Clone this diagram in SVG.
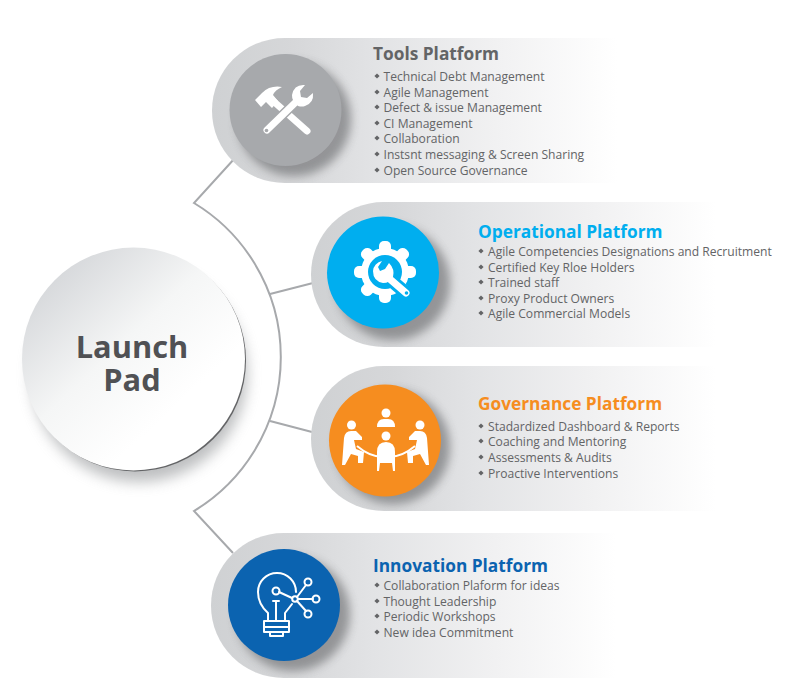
<svg xmlns="http://www.w3.org/2000/svg" width="808" height="699" viewBox="0 0 808 699">
<style>
.t{font-family:"Open Sans","Liberation Sans",sans-serif;font-weight:700;font-size:17.3px}
.i{font-family:"Open Sans","Liberation Sans",sans-serif;font-size:12.1px;fill:#636466}
.l{font-family:"Open Sans","Liberation Sans",sans-serif;font-weight:700;font-size:30.8px;fill:#505154;text-anchor:middle}
.c{fill:none;stroke:#a7a9ac;stroke-width:2}
.w{fill:#fff}
.s{fill:none;stroke:#fff;stroke-width:2;stroke-linecap:round;stroke-linejoin:round}
</style>
<defs>
<linearGradient id="pill" x1="0" x2="1" y1="0" y2="0">
<stop offset="0" stop-color="#cfd1d3"/><stop offset=".2" stop-color="#d6d7d9"/><stop offset=".4" stop-color="#e2e3e5"/><stop offset=".7" stop-color="#f1f1f2"/><stop offset="1" stop-color="#fff"/>
</linearGradient>
<linearGradient id="pad" x1=".12" y1=".12" x2=".68" y2=".72">
<stop offset="0" stop-color="#d5d7da"/><stop offset=".55" stop-color="#f5f6f6"/><stop offset="1" stop-color="#fff"/>
</linearGradient>
<filter id="b" x="-30%" y="-30%" width="160%" height="160%"><feGaussianBlur stdDeviation="5"/></filter>
<filter id="b2" x="-30%" y="-30%" width="160%" height="160%"><feGaussianBlur stdDeviation="7"/></filter>
<polygon id="d" points="0,-2.6 2.6,0 0,2.6 -2.6,0" fill="#636466"/>
<path id="p" d="M72.500 0H405V145H72.500A72.500 72.500 0 0 1 72.500 0Z" fill="url(#pill)"/>
<clipPath id="cp"><path d="M72.500 0H405V145H72.500A72.500 72.500 0 0 1 72.500 0Z"/></clipPath>
<g id="sh" clip-path="url(#cp)"><circle cx="82" cy="81" r="57" fill="#6d6e71" opacity=".65" filter="url(#b)"/></g>
</defs>
<rect width="808" height="699" fill="#fff"/>
<g id="connectors">
<path class="c" d="M235 158L194 203A180 180 0 0 1 194 511L233 553"/>
<path class="c" d="M270 294L313 283M270 421L312 432"/>
</g>
<g id="launch-pad">
<circle cx="139" cy="374" r="108" fill="#939598" opacity=".6" filter="url(#b2)"/>
<circle cx="135" cy="360.500" r="111" fill="#636466"/>
<circle cx="133.500" cy="359" r="111.500" fill="url(#pad)"/>
<text class="l" x="132" y="358">Launch</text>
<text class="l" x="132" y="391">Pad</text>
</g>
<g id="tools-platform">
<use href="#p" x="212" y="38"/>
<use href="#sh" x="212" y="38"/>
<circle cx="285.500" cy="110" r="56" fill="#a7a9ac"/>
<path class="w" d="M255 100L262 93Q270 85 282 87Q275 90 273 95L278 101L272 108L266 102L261 107Z"/>
<path d="M272 100L307 131" stroke="#fff" stroke-width="7" stroke-linecap="round"/>
<path d="M267 130L298 100" stroke="#a7a9ac" stroke-width="10" stroke-linecap="round"/>
<path d="M267 130L298 100" stroke="#fff" stroke-width="7" stroke-linecap="round"/>
<path class="w" d="M305 85Q294 84 292 95Q292 99 293 100L298 106Q302 107 305 106Q314 103 313 93L307 98L301 97L300 91Z"/>
<circle cx="266.500" cy="130.500" r="1.800" fill="#a7a9ac"/>
<text class="t" x="373" y="60" fill="#636466">Tools Platform</text>
<use href="#d" x="377" y="76"/><text class="i" x="383.500" y="81">Technical Debt Management</text>
<use href="#d" x="377" y="92"/><text class="i" x="383.500" y="97">Agile Management</text>
<use href="#d" x="377" y="107"/><text class="i" x="383.500" y="112">Defect &amp; issue Management</text>
<use href="#d" x="377" y="123"/><text class="i" x="383.500" y="128">CI Management</text>
<use href="#d" x="377" y="138"/><text class="i" x="383.500" y="143">Collaboration</text>
<use href="#d" x="377" y="154"/><text class="i" x="383.500" y="159">Instsnt messaging &amp; Screen Sharing</text>
<use href="#d" x="377" y="170"/><text class="i" x="383.500" y="175">Open Source Governance</text>
</g>
<g id="operational-platform">
<use href="#p" x="311" y="202"/>
<use href="#sh" x="311" y="202"/>
<circle cx="383" cy="272.500" r="56" fill="#00aeef"/>
<g fill="#fff">
<circle cx="385" cy="272" r="24"/>
<rect x="379" y="241" width="12" height="62" rx="5"/>
<rect x="379" y="241" width="12" height="62" rx="5" transform="rotate(45 385 272)"/>
<rect x="379" y="241" width="12" height="62" rx="5" transform="rotate(90 385 272)"/>
<rect x="379" y="241" width="12" height="62" rx="5" transform="rotate(135 385 272)"/>
</g>
<circle cx="385" cy="272" r="17" fill="#00aeef"/>
<path d="M386 276L406 293" stroke="#00aeef" stroke-width="13" stroke-linecap="round"/>
<path d="M384 274L406 293" stroke="#fff" stroke-width="7" stroke-linecap="round"/>
<path class="w" d="M382 261A11 11 0 0 0 373 271Q373 281 383 283Q390 283 393 277Q395 269 389 263L385 269L380 271L378 267Z"/>
<circle cx="406.500" cy="293" r="1.800" fill="#00aeef"/>
<text class="t" x="478" y="238" fill="#00aeef">Operational Platform</text>
<use href="#d" x="481" y="251"/><text class="i" x="488" y="256">Agile Competencies Designations and Recruitment</text>
<use href="#d" x="481" y="267"/><text class="i" x="488" y="272">Certified Key Rloe Holders</text>
<use href="#d" x="481" y="282"/><text class="i" x="488" y="287">Trained staff</text>
<use href="#d" x="481" y="298"/><text class="i" x="488" y="303">Proxy Product Owners</text>
<use href="#d" x="481" y="313"/><text class="i" x="488" y="318">Agile Commercial Models</text>
</g>
<g id="governance-platform">
<use href="#p" x="311" y="366"/>
<use href="#sh" x="311" y="366"/>
<circle cx="385" cy="440.500" r="56" fill="#f68d1f"/>
<g fill="#fff">
<circle cx="386" cy="413" r="4.500"/>
<path d="M377 427Q377 419 384 419L388 419Q395 419 395 427Z"/>
<circle cx="386" cy="436" r="4.500"/>
<path d="M377 471L377 452Q377 442 386 442Q395 442 395 452L395 471L393 471L392 463L380 463L379 471Z"/>
<circle cx="351.500" cy="425" r="4.500"/>
<path d="M342 465L344 438Q345 431 351 431L356 431L362 437L362 440L354 440L356 449L364 452L363 463L358 463L358 456L351 454L345 465Z"/>
<circle cx="420" cy="425" r="4.500"/>
<path d="M429 465L427 438Q426 431 420 431L415 431L409 437L409 440L417 440L415 449L407 452L408 463L413 463L413 456L420 454L426 465Z"/>
</g>
<path d="M357 446Q371 458 386 457Q401 458 415 446" fill="none" stroke="#fff" stroke-width="2"/>
<text class="t" x="478" y="410" fill="#f68d1f">Governance Platform</text>
<use href="#d" x="481" y="426"/><text class="i" x="488" y="431">Stadardized Dashboard &amp; Reports</text>
<use href="#d" x="481" y="441"/><text class="i" x="488" y="446">Coaching and Mentoring</text>
<use href="#d" x="481" y="457"/><text class="i" x="488" y="462">Assessments &amp; Audits</text>
<use href="#d" x="481" y="473"/><text class="i" x="488" y="478">Proactive Interventions</text>
</g>
<g id="innovation-platform">
<use href="#p" x="211" y="533"/>
<use href="#sh" x="211" y="533"/>
<circle cx="284" cy="605" r="56" fill="#0b63b0"/>
<path class="s" d="M268 620L268 613Q258 604 258 592A19 19 0 0 1 296 592M285 620L285 613Q289 608 292 604"/>
<path class="s" d="M264 621H289V627H264ZM264 627V632H289V627M270 632V636H283V632M276 602V620M273 601H279"/>
<path class="s" d="M279 592L292 598M297 597L306 585M298 599H313M297 601L306 611"/>
<circle class="s" cx="276" cy="591" r="3.500"/><circle class="s" cx="295" cy="599" r="2.800"/>
<circle class="s" cx="308" cy="582" r="3.500"/><circle class="s" cx="316" cy="599" r="3.500"/><circle class="s" cx="308" cy="614" r="3.500"/>
<text class="t" x="373" y="572" fill="#0b63b0">Innovation Platform</text>
<use href="#d" x="377" y="585"/><text class="i" x="383.500" y="590">Collaboration Plaform for ideas</text>
<use href="#d" x="377" y="601"/><text class="i" x="383.500" y="606">Thought Leadership</text>
<use href="#d" x="377" y="616"/><text class="i" x="383.500" y="621">Periodic Workshops</text>
<use href="#d" x="377" y="632"/><text class="i" x="383.500" y="637">New idea Commitment</text>
</g>
</svg>
